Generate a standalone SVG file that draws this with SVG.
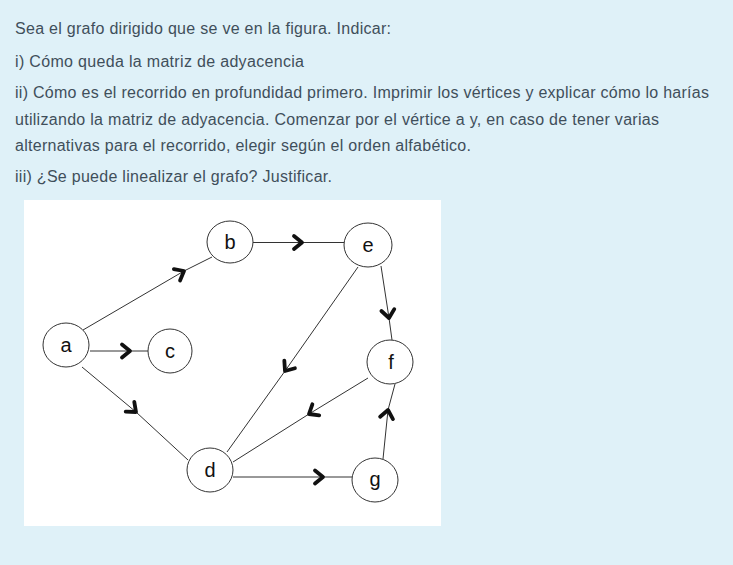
<svg xmlns="http://www.w3.org/2000/svg" width="733" height="565" viewBox="0 0 733 565">
<style>
.q{font-family:"Liberation Sans",Arial,sans-serif;font-size:16px;fill:#3f4f5b}
.n ellipse{fill:#fff;stroke:#333;stroke-width:1}
.n text{font-family:"Liberation Sans",Arial,sans-serif;font-size:20px;fill:#111;text-anchor:middle}
.e path{fill:none;stroke:#333;stroke-width:1;marker-mid:url(#chev)}
</style>
<defs>
<marker id="chev" markerUnits="userSpaceOnUse" markerWidth="24" markerHeight="24" refX="0" refY="0" viewBox="-12 -12 24 24" orient="auto" overflow="visible">
<path d="M -8,-6.5 L 0,0 L -8,6.5" fill="none" stroke="#111" stroke-width="3.8" stroke-linejoin="round" stroke-linecap="round"/>
</marker>
</defs>
<rect x="0" y="0" width="733" height="565" fill="#dff1f8"/>
<g id="question">
<text class="q" x="15" y="34" textLength="376" lengthAdjust="spacing">Sea el grafo dirigido que se ve en la figura. Indicar:</text>
<text class="q" x="15" y="67" textLength="289" lengthAdjust="spacing">i) Cómo queda la matriz de adyacencia</text>
<text class="q" x="15" y="98" textLength="694" lengthAdjust="spacing">ii) Cómo es el recorrido en profundidad primero. Imprimir los vértices y explicar cómo lo harías</text>
<text class="q" x="15" y="125" textLength="644" lengthAdjust="spacing">utilizando la matriz de adyacencia. Comenzar por el vértice a y, en caso de tener varias</text>
<text class="q" x="15" y="151" textLength="456" lengthAdjust="spacing">alternativas para el recorrido, elegir según el orden alfabético.</text>
<text class="q" x="15" y="182" textLength="317" lengthAdjust="spacing">iii) ¿Se puede linealizar el grafo? Justificar.</text>
</g>
<rect x="24" y="200" width="417" height="326" fill="#fff"/>
<g id="connectors" class="e">
<path d="M 83,330 L 184,271 L 212,257"/>
<path d="M 90,351 L 130,351 L 148,351"/>
<path d="M 253,242.5 L 302,242.5 L 344,242.5"/>
<path d="M 82,367 L 136,412 L 188,460"/>
<path d="M 358,267 L 285,371 L 227,452"/>
<path d="M 381,266 L 389,318 L 392,340"/>
<path d="M 368,378 L 309,414 L 233,462"/>
<path d="M 233,477 L 323,477 L 352,477"/>
<path d="M 383,459 L 388,410 L 395,384"/>
</g>
<g id="node-a" class="n"><ellipse cx="66" cy="345" rx="23" ry="22"/><text x="66" y="352">a</text></g>
<g id="node-b" class="n"><ellipse cx="230" cy="242" rx="23" ry="21"/><text x="230" y="249">b</text></g>
<g id="node-c" class="n"><ellipse cx="170" cy="351" rx="22" ry="22"/><text x="170" y="358">c</text></g>
<g id="node-e" class="n"><ellipse cx="368" cy="245" rx="24" ry="22"/><text x="368" y="252">e</text></g>
<g id="node-f" class="n"><ellipse cx="390" cy="362" rx="23" ry="22"/><text x="391" y="369">f</text></g>
<g id="node-g" class="n"><ellipse cx="375" cy="480" rx="23" ry="22"/><text x="375" y="486">g</text></g>
<g id="node-d" class="n"><ellipse cx="210" cy="470" rx="23" ry="22"/><text x="210" y="477">d</text></g>
</svg>
